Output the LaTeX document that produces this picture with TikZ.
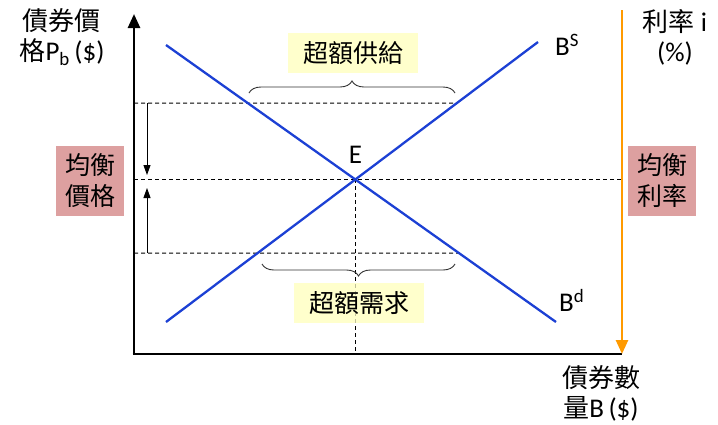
\documentclass[tikz,border=0pt]{standalone}
\usepackage{fontspec}
\setmainfont{Carlito}
\newfontfamily\cjk{Noto Sans CJK TC}
\usetikzlibrary{arrows.meta,decorations.pathreplacing,calc}
\definecolor{bondblue}{HTML}{1C40D4}
\definecolor{rateorange}{HTML}{FF9A00}
\definecolor{pinkfill}{HTML}{DDA0A0}
\definecolor{yellowfill}{HTML}{FFFFCC}
\begin{document}
\begin{tikzpicture}[x=1pt,y=-1pt,
  axis/.style={line width=2.6pt,black},
  curve/.style={line width=2.3pt,color=bondblue},
  guide/.style={line width=1pt,dash pattern=on 4pt off 3pt,black},
  pinkbox/.style={fill=pinkfill,inner sep=0pt,minimum width=68pt,minimum height=70pt,align=center,font=\cjk\fontsize{25}{31}\selectfont},
  yellowbox/.style={fill=yellowfill,inner sep=0pt,minimum width=130pt,minimum height=40pt,font=\cjk\fontsize{25}{30}\selectfont},
  lbl/.style={font=\fontsize{27}{30}\selectfont,align=center,inner sep=0pt},
  bracestyle/.style={decorate,decoration={brace,amplitude=12pt},line width=0.9pt,black!80},
  smallarrow/.style={line width=0.9pt,-{Triangle[width=7pt,length=10pt]}}]
\useasboundingbox (0,0) rectangle (718,424);
% base coordinates
\coordinate (O) at (134,354);
\coordinate (Ytop) at (134,14);
\coordinate (Xend) at (622,354);
\coordinate (Otop) at (622,10);
\coordinate (S1) at (166,322);
\coordinate (S2) at (538,42);
\coordinate (D1) at (166,45);
\coordinate (D2) at (556,322);
\coordinate (E) at (intersection of S1--S2 and D1--D2);
\coordinate (TL) at (134,103);
\coordinate (TR) at (intersection of S1--S2 and 0,103--700,103);
\coordinate (BL) at (134,253);
\coordinate (BR) at (intersection of D1--D2 and 0,253--700,253);
% bottom yellow box (under the dashed line)
\node[yellowbox] (exd) at (359,303) {超額需求};
% guides
\draw[guide] (TL) -- (TR);
\draw[guide] (BL) -- (BR);
\draw[guide] (O |- E) -- (Xend |- E);
\draw[guide] (E) -- (E |- O);
\fill[yellowfill,opacity=0.75] (exd.south west) rectangle (exd.north east);
\node[yellowbox,fill=none] at (exd.center) {超額需求};
% curves
\draw[curve] (S1) -- (S2);
\draw[curve] (D1) -- (D2);
% axes
\draw[axis,-{Triangle[width=12pt,length=14pt]}] (O) -- (Ytop);
\draw[axis] ([xshift=-1.3pt]O) -- (Xend);
\draw[line width=2.6pt,rateorange,-{Triangle[width=12pt,length=14pt]}] (Otop) -- (Xend);
% small arrows
\coordinate (A1s) at (147,103);
\coordinate (A1e) at (147,175);
\coordinate (A2s) at (147,253);
\coordinate (A2e) at (147,188);
\draw[smallarrow] (A1s) -- (A1e);
\draw[smallarrow] (A2s) -- (A2e);
% braces
\coordinate (BrT1) at (249,93);
\coordinate (BrT2) at (455,93);
\coordinate (BrB1) at (455,264);
\coordinate (BrB2) at (262,264);
\draw[bracestyle] (BrT1) -- (BrT2);
\draw[bracestyle] (BrB1) -- (BrB2);
% labels
\node[yellowbox] (exs) at (353,53) {超額供給};
\node[pinkbox] (eqp) at (90,181) {均衡\\價格};
\node[pinkbox] (eqr) at (662,181) {均衡\\利率};
\node[lbl] (ylab) at (62,37) {{\cjk\fontsize{26}{30}\selectfont 債券價}\\{\cjk\fontsize{26}{30}\selectfont 格}P\textsubscript{b}\,(\$)};
\node[lbl] (rlab) at (675,37) {{\cjk\fontsize{26}{30}\selectfont 利率} i\\(\%)};
\node[lbl] (xlab) at (601,393) {{\cjk\fontsize{26}{30}\selectfont 債券數}\\{\cjk\fontsize{26}{30}\selectfont 量}B\,(\$)};
\node[lbl] (Elab) at ($(E)+(0,-25)$) {E};
\node[lbl,anchor=west] (BSlab) at (555,45) {B\textsuperscript{S}};
\node[lbl,anchor=west] (BDlab) at (559,300) {B\textsuperscript{d}};
\end{tikzpicture}
\end{document}
